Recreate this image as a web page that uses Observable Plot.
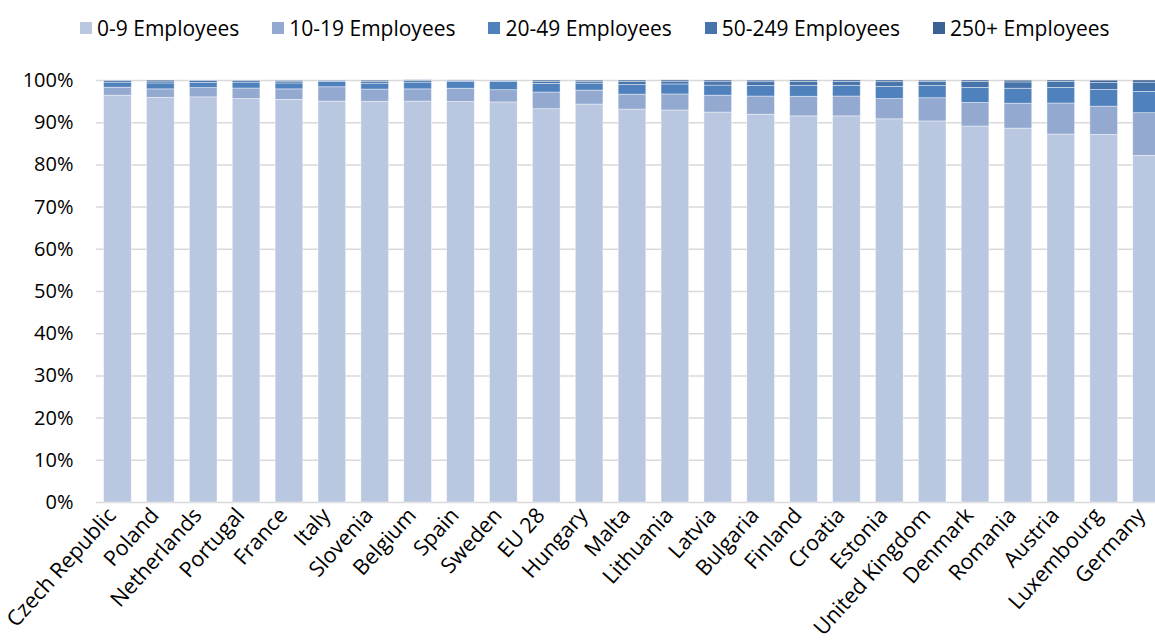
<!DOCTYPE html>
<html>
<head>
<meta charset="utf-8">
<script src="https://cdn.jsdelivr.net/npm/d3@7"></script>
<script src="https://cdn.jsdelivr.net/npm/@observablehq/plot@0.6"></script>
<style>
  html, body { margin: 0; padding: 0; background: #fff; overflow: hidden; width: 1155px; height: 640px; }
  body { font-family: "Open Sans", sans-serif; color: #000; }
  #legend { height: 55px; display: flex; align-items: center; padding-left: 80px; gap: 33px; box-sizing: border-box; font-size: 21px; }
  .item { display: flex; align-items: center; gap: 5px; }
  .sw { width: 12px; height: 12px; display: inline-block; }
  #chart { width: 1155px; overflow: hidden; }
  #chart svg { display: block; max-width: none !important; }
</style>
</head>
<body>
<div id="legend"></div>
<div id="chart"></div>
<script>
const countries = ["Czech Republic","Poland","Netherlands","Portugal","France","Italy","Slovenia","Belgium","Spain","Sweden","EU 28","Hungary","Malta","Lithuania","Latvia","Bulgaria","Finland","Croatia","Estonia","United Kingdom","Denmark","Romania","Austria","Luxembourg","Germany"];
const sizeClasses = ["0-9 Employees","10-19 Employees","20-49 Employees","50-249 Employees","250+ Employees"];
const emp0_9    = [96.4, 95.9, 96.0, 95.6, 95.4, 95.0, 94.95, 95.0, 94.9, 94.8, 93.2, 94.3, 93.1, 92.9, 92.4, 91.9, 91.5, 91.5, 90.8, 90.3, 89.1, 88.6, 87.2, 87.1, 82.15];
const emp10_19  = [1.9, 2.0, 2.2, 2.5, 2.5, 3.4, 2.9, 2.9, 3.15, 2.9, 3.95, 3.3, 3.55, 3.8, 4.0, 4.3, 4.65, 4.7, 4.8, 5.5, 5.6, 5.9, 7.35, 6.7, 10.1];
const emp20_49  = [1.2, 1.4, 1.25, 1.4, 1.4, 1.26, 1.4, 1.6, 1.65, 1.97, 2.05, 1.66, 2.3, 2.37, 2.4, 2.5, 2.6, 2.55, 2.9, 2.9, 3.55, 3.55, 3.7, 3.95, 5.05];
const emp50_249 = [0.35, 0.45, 0.4, 0.35, 0.43, 0.22, 0.45, 0.4, 0.22, 0.22, 0.5, 0.45, 0.7, 0.65, 0.8, 0.9, 0.9, 0.9, 1.1, 0.95, 1.4, 1.5, 1.4, 1.7, 2.2];
const emp250    = [0.15, 0.25, 0.15, 0.15, 0.2, 0.1, 0.26, 0.15, 0.1, 0.1, 0.29, 0.26, 0.33, 0.3, 0.38, 0.36, 0.36, 0.36, 0.4, 0.3, 0.34, 0.4, 0.34, 0.5, 0.5];
const yTicks = [0,10,20,30,40,50,60,70,80,90,100];
const colors = ["#bac7e0","#94a9d0","#4f81bd","#4673aa","#3c6193"];

const seriesValues = [emp0_9, emp10_19, emp20_49, emp50_249, emp250];
const table = [];
sizeClasses.forEach((s, i) => countries.forEach((c, j) => table.push({country: c, size: s, value: seriesValues[i][j]})));

// legend
const leg = document.getElementById("legend");
sizeClasses.forEach((s, i) => {
  const it = document.createElement("div"); it.className = "item";
  const sw = document.createElement("span"); sw.className = "sw"; sw.style.background = colors[i];
  const t = document.createElement("span"); t.textContent = s;
  it.appendChild(sw); it.appendChild(t); leg.appendChild(it);
});

const chart = Plot.plot({
  width: 1168,
  height: 585,
  marginLeft: 96,
  marginRight: 0,
  marginTop: 25,
  marginBottom: 138,
  style: {fontFamily: "Open Sans, sans-serif", fontSize: "20px", color: "#000", background: "#fff", maxWidth: "none"},
  x: {domain: countries, round: false, paddingInner: 0.355, paddingOuter: 0.1775},
  y: {domain: [0, 100]},
  color: {domain: sizeClasses, range: colors},
  marks: [
    Plot.ruleY(yTicks, {stroke: "#d9d9d9", strokeWidth: 1.5}),
    Plot.barY(table, {x: "country", y: "value", fill: "size", stroke: "white", strokeWidth: 0.75, strokeOpacity: 0.55}),
    Plot.axisY({ticks: yTicks, tickFormat: d => d + "%", label: null, tickSize: 0, tickPadding: 23}),
    Plot.axisX({label: null, tickSize: 0, tickRotate: -48, tickPadding: 9, dx: -6, fontSize: 21.5})
  ]
});
document.getElementById("chart").appendChild(chart);
</script>
</body>
</html>
